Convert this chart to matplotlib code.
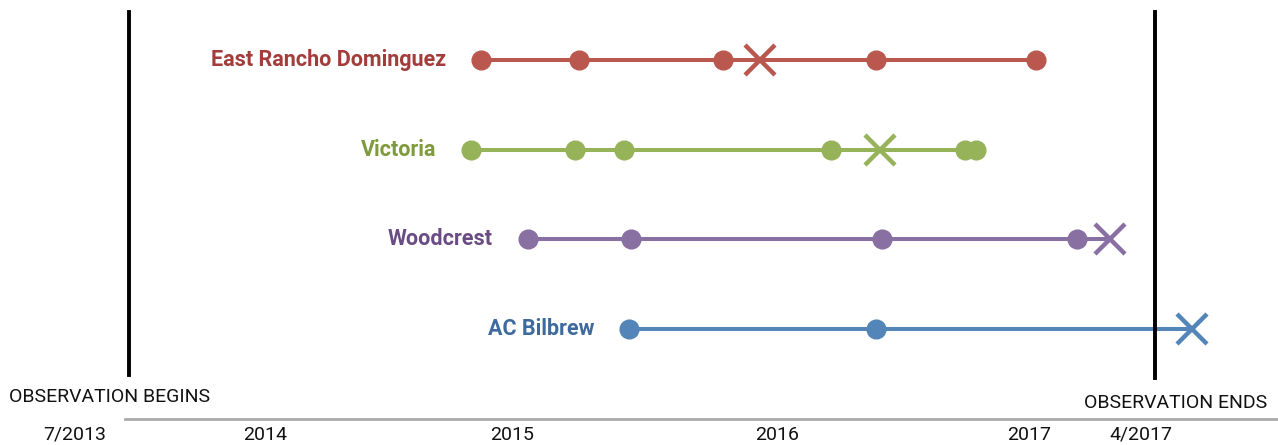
import matplotlib.pyplot as plt

# timeline data (decimal years)
sites = ['East Rancho Dominguez', 'Victoria', 'Woodcrest', 'AC Bilbrew']
visits = [
    [2014.847, 2015.231, 2015.796, 2016.396, 2017.024],
    [2014.808, 2015.216, 2015.408, 2016.220, 2016.745, 2016.788],
    [2015.031, 2015.435, 2016.420, 2017.184],
    [2015.427, 2016.396],
]
closures = [2015.941, 2016.412, 2017.314, 2017.635]  # the X marks
obs_begin = 2013.467
obs_end = 2017.49
tick_pos = [2013.255, 2014.0, 2014.969, 2016.008, 2016.996, 2017.435]
tick_labels = ['7/2013', '2014', '2015', '2016', '2017', '4/2017']

line_colors = ['#BA5850', '#97B35A', '#8870A2', '#5385B8']
text_colors = ['#A33D3B', '#7E9A3D', '#6A4C85', '#3E6A9E']

plt.rcParams['font.family'] = ['Roboto', 'DejaVu Sans']

fig = plt.figure(figsize=(12.78, 4.45), dpi=100)
ax = fig.add_axes([0, 26 / 445, 1, 419 / 445])

n = len(sites)
for i in range(n):
    y = n - 1 - i
    xs = visits[i]
    end = max(max(xs), closures[i])
    ax.plot([xs[0], end], [y, y], color=line_colors[i], lw=2.9, zorder=2)
    ax.plot(xs, [y] * len(xs), 'o', color=line_colors[i], ms=13.5, zorder=3)
    ax.plot(closures[i], y, 'x', color=line_colors[i], ms=21, mew=3.2, zorder=3)
    ax.annotate(sites[i], (xs[0], y), xytext=(-35, 0), textcoords='offset pixels',
                ha='right', va='center', color=text_colors[i],
                fontsize=15.5, fontweight='bold')

ax.axvline(obs_begin, ymin=(419 - 375) / 419, ymax=(419 - 12) / 419, color='black', lw=2.8)
ax.axvline(obs_end, ymin=(419 - 378) / 419, ymax=(419 - 12) / 419, color='black', lw=2.8)
ax.annotate('OBSERVATION BEGINS', (obs_begin, -0.758), xytext=(-20, 0),
            textcoords='offset pixels', ha='center', va='center', fontsize=14, color='#111111')
ax.annotate('OBSERVATION ENDS', (obs_end, -0.82), xytext=(21, 0),
            textcoords='offset pixels', ha='center', va='center', fontsize=14, color='#111111')

x0 = 2014 - 265 / 255
x1 = 2014 + (1278 - 265) / 255
ax.set_xlim(x0, x1)
ax.set_ylim(-1.004, 3.669)
ax.set_yticks([])
ax.set_xticks(tick_pos)
ax.set_xticklabels(tick_labels, fontsize=14, color='#111111')
ax.tick_params(axis='x', length=0, pad=5)
for s in ['top', 'left', 'right']:
    ax.spines[s].set_visible(False)
ax.spines['bottom'].set_color('#aaaaaa')
ax.spines['bottom'].set_linewidth(2)
ax.spines['bottom'].set_bounds(2014 - 140 / 255, x1)

fig.savefig('out.png', dpi=100)
